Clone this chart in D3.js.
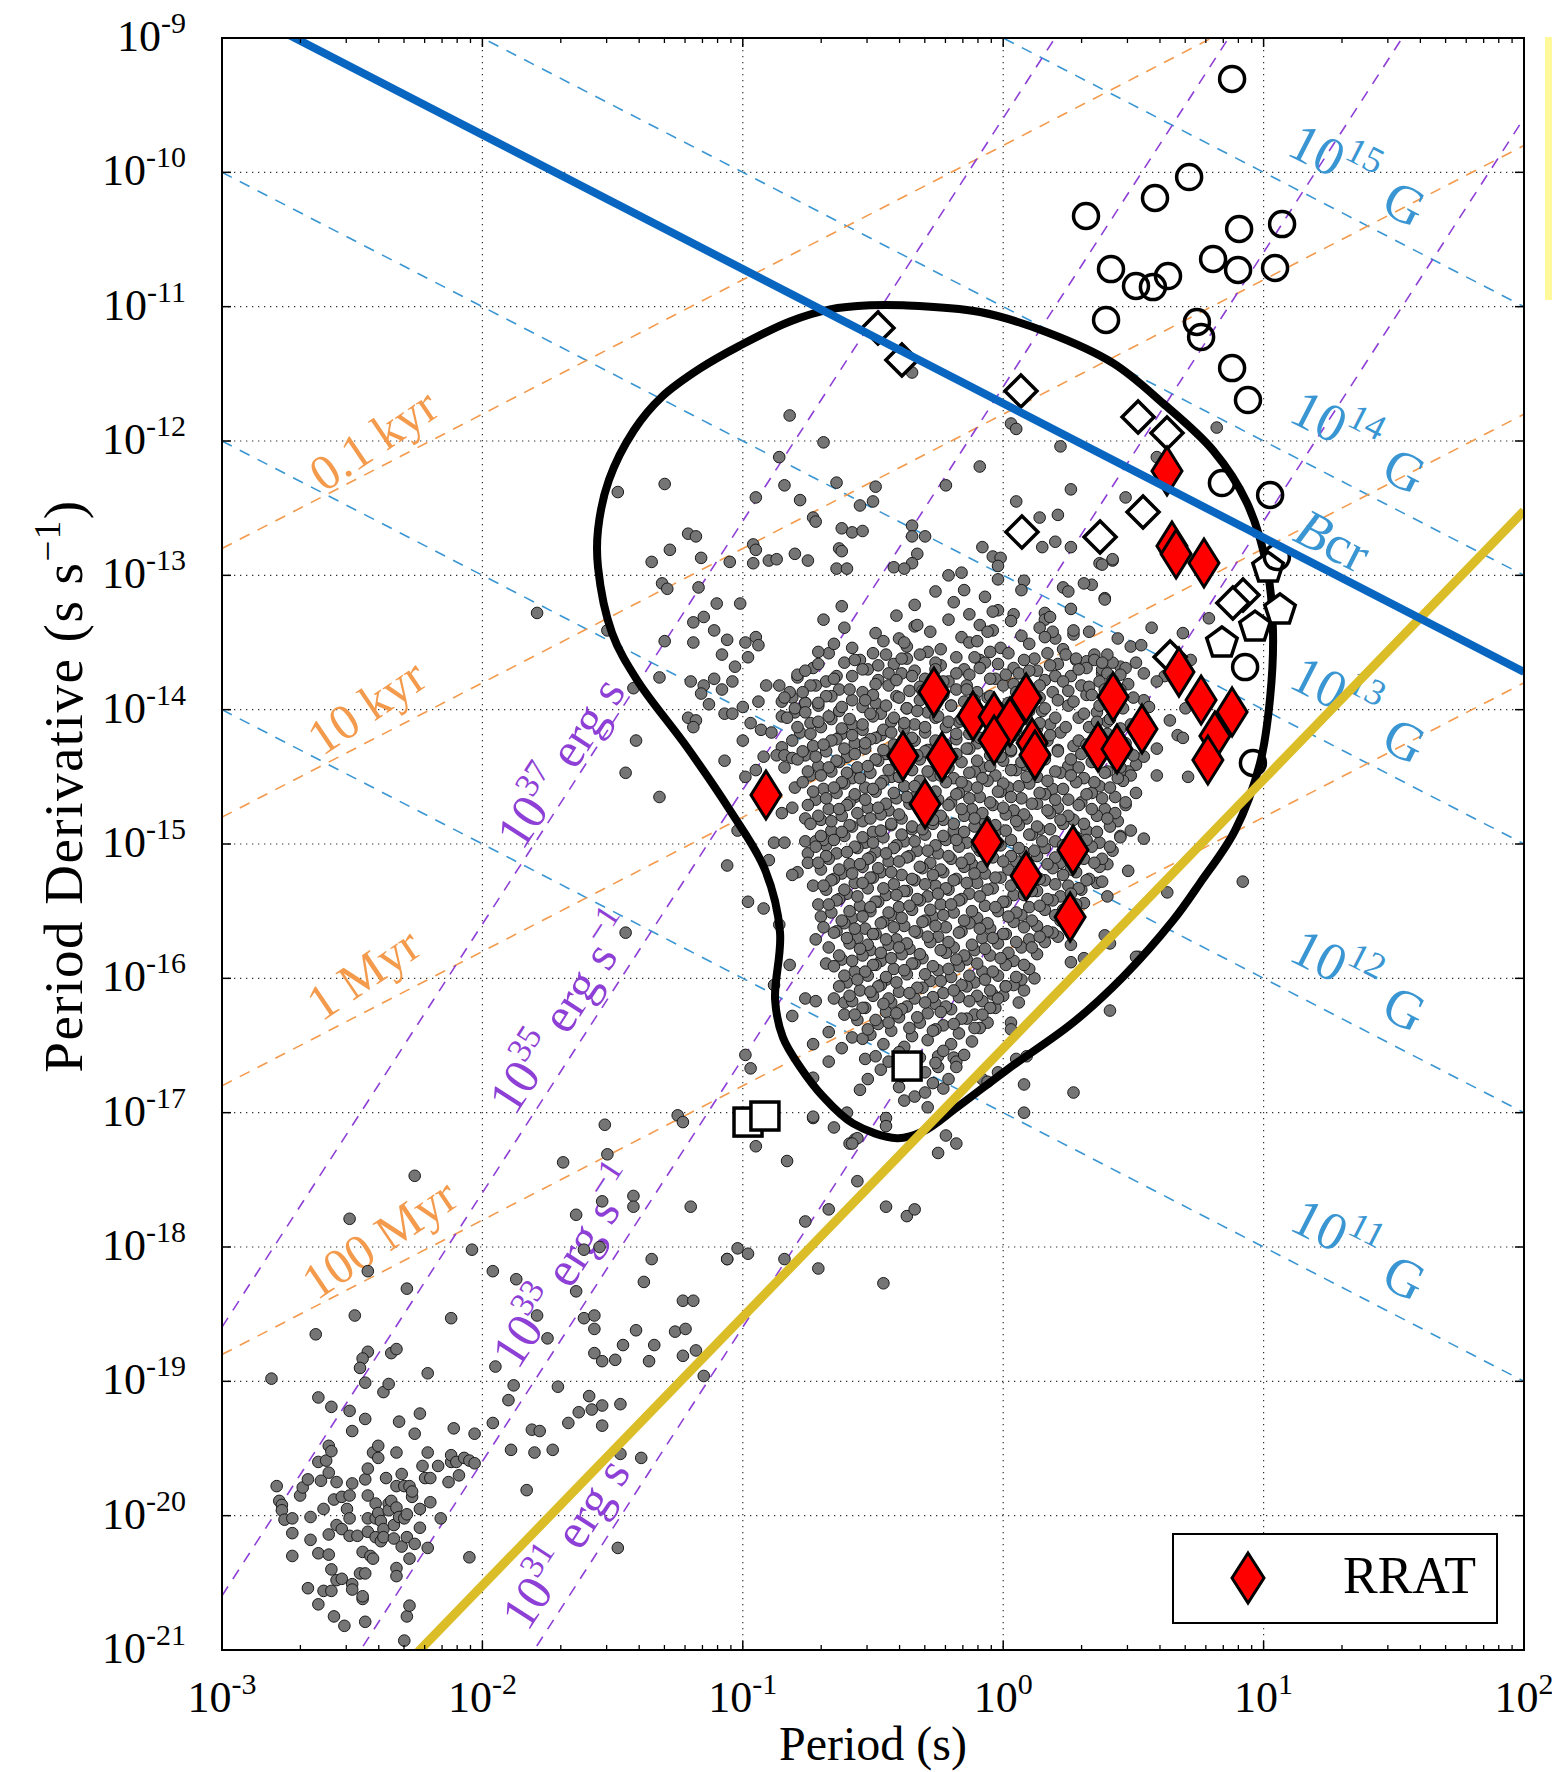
<!DOCTYPE html>
<html>
<head>
<meta charset="utf-8">
<script src="https://cdn.jsdelivr.net/npm/d3@7"></script>
<style>
  body { margin: 0; background: #fff; }
  svg { display: block; }
  text { font-family: "Liberation Serif", "Times New Roman", serif; }
</style>
</head>
<body>
<svg id="chart" width="1552" height="1772"></svg>
<script>
// ---------- data ----------
const xTickExp = [-3, -2, -1, 0, 1, 2];
const yTickExp = [-9, -10, -11, -12, -13, -14, -15, -16, -17, -18, -19, -20, -21];

// constant magnetic field lines: log10(P * Pdot)
const bFieldExp = [15, 14, 13, 12, 11];
const bFieldLogPPdot = [-9, -11, -13, -15, -17];
const bCritLogPPdot = -11.72;
// characteristic age lines (years)
const ageLabels = ["0.1 kyr", "10 kyr", "1 Myr", "100 Myr"];
const ageYears = [1e2, 1e4, 1e6, 1e8];
// spin-down luminosity lines (erg/s)
const edotExp = [37, 35, 33, 31];
const edotHasUnit = [false, true, true, false];
const momentOfInertia = 1e45;
// yellow line: log Pdot = 2 log P + c
const deathSlope = 2;
const deathLogPdotAtP1 = -16.52;

// label anchor points [log P, log Pdot]
const bLabelPos = [[1.27, -9.89], [1.278, -11.874], [1.278, -13.854], [1.278, -15.886], [1.278, -17.889]];
const gLabelPos = [[1.543, -10.228], [1.543, -12.216], [1.543, -14.226], [1.543, -16.221], [1.543, -18.224]];
const bcrLabelPos = [1.267, -12.737];
const ageLabelPos = [[-2.42, -11.985], [-2.447, -13.973], [-2.459, -15.961], [-2.397, -17.933]];
const edotLabelPos = [[-1.702, -14.39], [-1.694, -16.251], [-1.683, -18.142], [-1.683, -20.204]];

// contour [log P, log Pdot]
const contour = [[-0.512,-10.99],[-0.385,-10.99],[-0.089,-11.04],[0.168,-11.19],[0.422,-11.42],[0.614,-11.72],
  [0.806,-12.07],[0.936,-12.46],[1.013,-12.94],[1.036,-13.41],[1.025,-13.91],[0.986,-14.40],[0.890,-14.90],
  [0.756,-15.29],[0.652,-15.57],[0.460,-15.99],[0.268,-16.33],[0.015,-16.68],[-0.177,-16.96],[-0.308,-17.14],
  [-0.408,-17.19],[-0.577,-17.08],[-0.692,-16.88],[-0.780,-16.66],[-0.846,-16.44],[-0.876,-16.16],[-0.857,-15.66],
  [-0.915,-15.19],[-1.049,-14.75],[-1.214,-14.28],[-1.406,-13.78],[-1.502,-13.43],[-1.556,-12.94],[-1.556,-12.66],
  [-1.514,-12.29],[-1.418,-11.92],[-1.310,-11.67],[-1.164,-11.46],[-1.011,-11.29],[-0.819,-11.11],[-0.665,-11.02]];

// open circles [log P, log Pdot]
const circles = [[0.879,-9.305],[0.318,-10.325],[0.583,-10.191],[0.714,-10.035],[0.906,-10.422],[1.071,-10.385],
  [0.414,-10.72],[0.51,-10.846],[0.575,-10.854],[0.633,-10.772],[0.806,-10.645],[0.902,-10.727],[1.044,-10.712],
  [0.395,-11.099],[0.744,-11.114],[0.76,-11.226],[0.879,-11.457],[0.94,-11.695],[0.84,-12.313],[1.025,-12.402],
  [1.051,-12.864],[0.929,-13.683],[0.959,-14.397]];
// open diamonds
const openDiamonds = [[-0.481,-11.159],[-0.389,-11.397],[0.068,-11.628],[0.518,-11.821],[0.629,-11.941],
  [0.537,-12.529],[0.072,-12.678],[0.372,-12.715],[0.921,-13.147],[0.882,-13.206],[0.641,-13.608]];
// open pentagons
const pentagons = [[1.017,-12.946],[1.063,-13.258],[0.967,-13.385],[0.84,-13.504]];
// open squares
const squares = [[-0.369,-16.653],[-0.98,-17.07],[-0.915,-17.025]];
// RRATs
const rrats = [[0.629,-12.223],[0.648,-12.782],[0.664,-12.841],[0.771,-12.908],[-0.266,-13.869],[-0.116,-14.047],
  [-0.035,-14.055],[0.026,-14.092],[0.088,-13.913],[-0.035,-14.226],[0.111,-14.248],[0.122,-14.338],[-0.385,-14.345],
  [-0.235,-14.352],[-0.3,-14.702],[-0.911,-14.635],[-0.062,-14.985],[0.268,-15.045],[0.088,-15.238],[0.257,-15.544],
  [0.422,-13.906],[0.364,-14.278],[0.437,-14.293],[0.533,-14.144],[0.675,-13.72],[0.76,-13.928],[0.879,-14.017],
  [0.813,-14.196],[0.786,-14.375]];

// pulsars (grey): "p,q" with log P = p/100 - 3, log Pdot = -q/100
const pulsarsSparse = `74,1747 49,1779 56,1818 96,1802 71,1831 51,1851 36,1865 88,1853 19,1898 79,1894 55,1901 62,1908
64,1902 37,1912 42,1919 49,1922 55,1928 50,1937 68,1930 76,1924 74,1939 89,1935 97,1939 104,1931 104,1818 113,1824
131,1737 147,1709 148,1731 175,1702 177,1707 158,1762 158,1770 146,1766 136,1776 180,1770 139,1802 145,1800 165,1809
162,1826 136,1833 177,1840 181,1840 139,1853 143,1851 143,1861 159,1862 174,1863 178,1861 166,1873 154,1873 143,1879
146,1885 151,1884 164,1885 177,1881 182,1877 185,1896 194,1809 121,1851 125,1868 105,1889 112,1903 110,1914 129,1904
141,1911 146,1918 142,1921 137,1923 133,1931 153,1917 146,1933 119,1936 122,1937 111,1951 120,1953 127,1951 117,1981
153,1954 161,1957 152,2024 95,2031 56,1878 54,1883 53,1890 65,1879 67,1876
21,1978 22,1989 23,1992 23,1996 24,2003 27,2002 27,2013 27,2030 30,1985 31,1979 33,1973 34,2001 34,2018 37,1960
38,1974 37,2028 39,1995 40,1959 41,1968 41,2014 41,2029 41,1948 42,1952 43,1988 44,1975 44,2007 42,2040 44,2048
46,2047 46,1986 46,2010 48,1995 49,2002 49,2015 49,1985 50,1976 50,2051 50,2055 52,2015 53,2043 54,2062 54,2027
55,2043 55,1973 56,2002 56,1985 56,2012 56,1965 57,2030 58,1953 58,2032 59,1991 59,2002 59,2016 60,1957 60,1998
60,1948 61,2004 61,2019 62,2010 62,2016 63,1972 64,1991 64,1996 65,1989 66,2007 66,2017 67,1978 67,1953 67,1994
68,2001 69,1969 69,2023 70,2002 70,1978 71,1999 71,2016 72,2032 72,1978 73,1986 73,1982 74,2021 76,2009 76,1995
77,1963 78,1972 79,2024 79,1953 80,1972 80,1990 83,1963 84,2002 87,1975 88,1960 88,1955 90,1960 91,1970 93,1957
95,1959 97,1961 37,2066 33,2054 39,2056 42,2056 43,2075 47,2082 55,2079 54,2060 67,2039 67,2045 70,2093 71,2075 72,2067
201,1657 203,1667 205,1725 217,1736 244,1751 233,1772 255,1770 224,1781 263,1777 266,1772 229,1816 216,1809 254,1827
198,1801 194,1809 202,1805 227,1704 235,1711 243,1720 241,1723
308,1679 327,1685 308,1700 278,1717 282,1723 275,1730 341,1624 363,1536 348,1520 352,1584 339,1568 336,1529 340,1539
392,1528 354,1496 338,1528
382,1190 347,1242 342,1289 337,1291 339,1317 379,1332 357,1339 369,1343 349,1353 353,1352 372,1363 351,1365 354,1373
362,1375 345,1368 338,1373 359,1379 354,1393 356,1398 370,1399 364,1408 367,1419 369,1421 359,1429 354,1435 351,1441
371,1450 359,1449 348,1446 345,1447
218,1181 231,1201 214,1212 216,1233 222,1244 227,1257 228,1260 236,1231 245,1248 250,1245 251,1234 238,1265 242,1268
246,1267 265,1263 265,1271 270,1271 265,1149 278,1233 291,1219 303,1187 305,1191 322,1204 326,1236 305,1245 314,1257
321,1255 359,1212 292,1279 315,1279 320,1275 326,1279 237,1280
121,1328 152,1238 148,1341 158,1384 159,1423 155,1447 155,1566 170,1232 202,1543 205,1242
179,1269 182,1271 172,1281 165,1290 184,1287 195,1290 204,1277 205,1281 204,1291 210,1289 213,1288 220,1284 225,1289
238,1282 236,1295 240,1295 267,1284 265,1291 258,1294 262,1295 296,1286 299,1287 298,1293 298,1303 342,1288 338,1292
334,1307 331,1306 339,1318 323,1309 325,1312 308,1304 307,1311 284,1298 279,1300 293,1316 285,1311 274,1312 281,1320
298,1326 304,1329 316,1328 316,1333 320,1347 327,1344 333,1342 335,1359 328,1363 332,1364 338,1370 347,1369 169,1306
171,1310 183,1309 190,1321 199,1321 181,1335 185,1331 170,1349 181,1350 189,1341 194,1348 192,1359 197,1368 201,1350
205,1346 206,1352 202,1361 189,1377 196,1379 192,1385 180,1379 185,1382 168,1376 184,1388 187,1396 193,1403 196,1403
179,1406 182,1408 181,1413 200,1398 203,1410 206,1394 209,1382 214,1382 215,1394 221,1376 224,1395 219,1391 207,1415
211,1417 200,1423 215,1405 215,1428 168,1465 193,1438 201,1450 205,1445 208,1435 213,1434 216,1434 219,1436 216,1443
220,1458 219,1473 224,1481 215,1477 212,1499 216,1499 198,1490 194,1516 210,1512 224,1498 228,1498 225,1507 232,1501
221,1521 219,1523
227,1674 227,1703 240,1700 233,1662 238,1652 247,1660 248,1675 253,1668 260,1681 262,1691 266,1688 270,1685 271,1696
255,1704 255,1710 244,1719 242,1723 245,1683 273,1678 277,1682 275,1658 275,1666 281,1659 282,1662 292,1675 294,1677
298,1670 303,1633 303,1638 305,1660 309,1658 306,1618 312,1600 308,1609 301,1606 296,1612 341,1574 351,1584 331,1544
321,1569 326,1575 326,1588 331,1585 219,1628 227,1649 233,1640 242,1644 224,1615 228,1617 235,1615 239,1618 232,1589
228,1571 230,1554 214,1560 208,1548 218,1590 212,1605`;

// dense core, one row per q: "q: p[+dq] ..."
const pulsarsCore = [
  "1336: 266+2 279-3 291+1 303-2 314+3",
  "1344: 251-1 260+3 272-2 284+2 296-3 307+1 319-2",
  "1352: 242+2 254-3 263+1 276+3 287-2 299+2 310-1 323+3",
  "1360: 233-2 245+3 255-1 263+2 271-3 282+1 291+3 302-2 312+2 324-1 335+3",
  "1368: 227+1 239-3 248+2 258-2 266+3 276-1 285+2 293-3 304+1 313+3 321-2 332+1 342-3",
  "1376: 221-2 232+3 242-1 252+2 261-3 270+1 279+3 287-2 297+1 306-3 316+2 326-1 337+3 345-2",
  "1384: 218+3 228-2 237+1 246+3 256-2 264+2 273-3 282+1 290+3 300-2 309+1 319+3 330-2 339+1 348-3",
  "1392: 216-1 224+3 234-2 242+1 251+3 259-2 268+1 276-3 285+2 294-1 302+3 311-2 321+1 332-3 342+2 350-1",
  "1400: 220+2 229-3 237+1 246-2 253+3 263-1 271+2 280-3 288+1 297+3 306-2 315+1 325-3 336+2 346-1",
  "1408: 217-2 226+2 234-1 242+3 250-3 257+1 266+3 274-2 283+1 291-3 300+2 309-1 318+3 329-2 340+1 349+3",
  "1416: 222+1 230-3 238+2 246-1 253+3 262-2 270+1 278-3 287+2 296-1 304+3 313-2 322+1 333-3 344+2 351-1",
  "1424: 219-1 227+3 236-2 243+1 251-3 258+2 266-1 274+3 282-2 290+1 299-3 308+2 317-1 327+3 337-2 347+1",
  "1432: 224+2 232-1 240+3 247-3 255+1 263+3 271-2 279+1 287-3 295+2 303-1 312+3 321-2 330+1 341-3 350+2",
  "1440: 221-3 229+2 237-1 244+3 252-2 260+1 268-3 276+2 284-1 292+3 300-2 308+1 316-3 325+2 334-1 345+3",
  "1448: 226+1 234-2 242+3 249-1 257+2 265-3 273+1 281+3 289-2 297+1 305-3 313+2 322-1 331+3 340-2 349+1",
  "1456: 223-2 231+3 239-1 247+2 254-3 262+1 270+3 278-2 286+1 294-3 302+2 310-1 319+3 328-2 337+1 346-3",
  "1464: 228+3 236-2 243+1 251-3 259+2 267-1 275+3 283-2 291+1 299-3 307+2 316-1 325+3 334-2 343+1 351-2",
  "1472: 225-1 233+2 241-3 248+1 256+3 264-2 272+1 280-3 288+2 296-1 304+3 313-2 321+1 330-3 339+2 347-1",
  "1480: 230+2 238-1 246+3 253-2 261+1 269-3 277+2 285-1 293+3 301-2 309+1 318-3 327+2 336-1 344+3",
  "1488: 226-3 234+2 242-1 250+3 257-2 265+1 273-3 281+2 289-1 297+3 306-2 314+1 323-3 332+2 341-1 349+2",
  "1496: 231+1 239-2 247+3 254-1 262+2 270-3 278+1 286+3 295-2 303+1 311-3 320+2 328-1 337+3 345-2",
  "1504: 228-2 236+3 244-1 251+2 259-3 267+1 275+3 283-2 291+1 299-3 308+2 316-1 325+3 334-2 342+1",
  "1512: 225+2 233-1 241+3 249-2 256+1 264-3 272+2 280-1 288+3 296-2 305+1 313-3 322+2 331-1 340+3",
  "1520: 230-1 238+2 246-3 253+1 261+3 269-2 277+1 285-3 293+2 302-1 310+3 319-2 328+1 337-3",
  "1528: 227+3 235-2 243+1 250-3 258+2 266-1 274+3 282-2 290+1 299-3 307+2 316-1 325+3 333-2",
  "1536: 232-2 240+1 248-3 255+2 263-1 271+3 279-2 287+1 296-3 304+2 313-1 322+3 330-2",
  "1544: 229+1 237-3 245+2 252-1 260+3 268-2 276+1 284-3 293+2 301-1 310+3 319-2 328+1",
  "1552: 234-1 242+3 249-2 257+1 265-3 273+2 281-1 290+3 298-2 307+1 316-3 325+2",
  "1560: 231+2 239-1 247+3 254-2 262+1 270-3 278+2 287-1 295+3 304-2 313+1 322-3",
  "1568: 236-3 244+2 251-1 259+3 267-2 275+1 284-3 292+2 301-1 310+3 319-2",
  "1576: 233+1 241-2 249+3 256-1 264+2 272-3 281+1 289+3 298-2 307+1 316-3",
  "1584: 238+2 246-1 253+3 261-2 269+1 278-3 286+2 295-1 304+3 313-2",
  "1592: 235-1 243+3 251-2 258+1 266-3 275+2 283-1 292+3 301-2 310+1",
  "1600: 240+3 248-2 255+1 263-3 272+2 280-1 289+3 298-2 307+1",
  "1608: 237-2 245+1 253-3 260+2 269-1 277+3 286-2 295+1 304-3",
  "1616: 242+1 250-3 257+2 266-1 274+3 283-2 292+1 300-3",
  "1624: 239+3 247-2 255+1 263-3 271+2 280-1 289+3 297-2",
  "1632: 244-1 252+2 260-3 268+1 277+3 286-2 294+1",
  "1640: 249+2 257-1 265+3 274-2 283+1 291-3",
  "1648: 246-3 254+1 262+3 271-2 280+1 288-1",
  "1656: 251+2 260-1 268+3 277-2 285+1",
  "1664: 256-2 265+3 274-1 282+2",
  "1672: 261+1 270-2 279+3",
  // second, offset layer
  "1324: 238-1 266-2 296+3 326+1",
  "1332: 231+1 259-2 287-3 318-1",
  "1340: 239-1 267-3 294+2 327+1",
  "1348: 235+3 262+2 290+1 316-2 344-1",
  "1356: 229+1 250+2 268+3 295+1 317+2 340+3",
  "1364: 229+2 243-1 252+3 261-2 274+1 289-3 298+2 308-1 318+3 328-2 338+1",
  "1372: 224-1 236+3 246-2 256+1 265+3 274-2 282+1 291-3 301+2 310-1 320+3 329-2 340+1",
  "1380: 226+2 235-3 251+1 259-2 268+3 277-1 286+2 295-3 304+1 314+2 323-1 333+3 342-2",
  "1388: 223-1 232+2 241-3 250+1 260+3 269-2 277+1 286-3 295+2 305-1 314+3 325-2 334+1 345-3",
  "1396: 220+3 229-1 238+2 247-3 255+1 263+3 272-2 280+1 289-3 298+2 307-1 316+3 327-2 337+1",
  "1404: 224-2 233+1 241+3 249-1 258+2 267-3 275+1 284+3 292-2 301+1 310-3 320+2 331-1 341+3",
  "1412: 221+1 229-3 238+2 246-1 254+3 262-2 270+1 279-3 296-1 305+3 314-2 324+1 336-3 345+2",
  "1420: 226-2 234+3 242-1 249+2 257-3 265+1 274+3 282-2 291+1 300-3 309+2 318-1 329+3 340-2",
  "1428: 223+3 231-2 239+1 247-3 254+2 262-1 270+3 278-2 286+1 294-3 303+2 312-1 321+3 332-2 343+1",
  "1436: 228-1 236+2 243-3 251+1 259+3 267-2 275+1 282-3 290+2 299-1 307+3 316-2 326+1 337-3",
  "1444: 225+2 233-1 240+3 248-2 256+1 263-3 271+2 279-1 287+3 295-2 303+1 312-3 320+2 329-1 339+3",
  "1452: 230-3 238+2 245-1 253+3 260-2 268+1 276-3 284+2 292-1 300+3 309-2 317+1 326-3 335+2 344-1",
  "1460: 227+1 235-2 243+3 250-1 258+2 266-3 274+1 282+3 290-2 298+1 306-3 314+2 323-1 332+3 341-2",
  "1468: 232-2 240+3 247-1 255+2 263-3 271+1 279+3 287-2 295+1 303-3 311+2 320-1 329+3 338-2 347+1",
  "1476: 229+3 237-2 244+1 252-3 260+2 268-1 276+3 284-2 292+1 300-3 308+2 317-1 325+3 334-2 343+1",
  "1484: 234-1 241+2 249-3 257+1 265+3 273-2 281+1 289-3 297+2 305-1 313+3 322-2 331+1 340-3",
  "1492: 230+2 238-1 246+3 253-2 261+1 269-3 277+2 285-1 293+3 301-2 310+1 318-3 327+2 336-1 345+3",
  "1500: 235-3 243+2 250-1 258+3 266-2 274+1 282-3 290+2 298-1 306+3 315-2 323+1 332-3 341+2",
  "1508: 232+1 240-2 248+3 255-1 263+2 271-3 279+1 287+3 295-2 303+1 312-3 320+2 329-1 338+3",
  "1516: 229-2 237+3 245-1 252+2 260-3 268+1 276+3 284-2 292+1 300-3 309+2 317-1 326+3 335-2",
  "1524: 234+3 242-2 249+1 257-3 265+2 273-1 281+3 289-2 297+1 306-3 314+2 323-1 332+3",
  "1532: 231-1 239+2 246-3 254+1 262+3 270-2 278+1 286-3 294+2 303-1 311+3 320-2 329+1",
  "1540: 236+2 244-1 251+3 259-2 267+1 275-3 283+2 291-1 300+3 308-2 317+1 326-3",
  "1548: 233-3 241+2 249-1 256+3 264-2 272+1 280-3 288+2 297-1 305+3 314-2 323+1",
  "1556: 238+1 246-2 253+3 261-1 269+2 277-3 285+1 294+3 302-2 311+1 320-3",
  "1564: 235+2 243-1 250+3 258-2 266+1 274-3 283+2 291-1 300+3 308-2 317+1",
  "1572: 240-2 248+3 255-1 263+2 271-3 279+1 288+3 296-2 305+1 314-3",
  "1580: 237+3 245-2 253+1 260-3 268+2 276-1 285+3 293-2 302+1 311-3",
  "1588: 242-1 250+2 257-3 265+1 273+3 282-2 290+1 299-3 308+2",
  "1596: 239+2 247-1 255+3 262-2 270+1 279-3 287+2 296-1 305+3",
  "1604: 244-3 252+2 259-1 267+3 276-2 284+1 293-3 301+2",
  "1612: 241+1 249-2 256+3 264-1 273+2 281-3 290+1 298+3",
  "1620: 246+2 254-1 261+3 270-2 278+1 287-3 295+2",
  "1628: 243-1 251+3 259-2 267+1 276-3 284+2 292-1",
  "1636: 248+2 256-3 264+1 273+3 281-2 289+1"
];

// ---------- setup ----------
const L = 222, R = 1524, T = 38, B = 1650;
const x = d3.scaleLog().domain([1e-3, 1e2]).range([L, R]);
const y = d3.scaleLog().domain([1e-21, 1e-9]).range([B, T]);
const svg = d3.select("#chart");

const toPt = d => [10 ** d[0], 10 ** d[1]];
const pulsars = [];
pulsarsSparse.trim().split(/\s+/).forEach(s => {
  const [p, q] = s.split(",").map(Number);
  pulsars.push([p / 100 - 3, -q / 100]);
});
pulsarsCore.forEach(row => {
  const [qs, rest] = row.split(":");
  const q = +qs;
  rest.trim().split(/\s+/).forEach(tok => {
    const m = tok.match(/^(\d+)([+-]\d+)?$/);
    const dq = m[2] ? +m[2] : 0;
    pulsars.push([+m[1] / 100 - 3, -(q + dq) / 100]);
  });
});

svg.append("rect").attr("x", 1545).attr("y", 37).attr("width", 7).attr("height", 263).attr("fill", "#fff99c");

svg.append("defs").append("clipPath").attr("id", "plotClip")
  .append("rect").attr("x", L).attr("y", T).attr("width", R - L).attr("height", B - T);
const plot = svg.append("g").attr("clip-path", "url(#plotClip)");

// grid
const grid = plot.append("g").attr("stroke", "#333").attr("stroke-width", 1.2).attr("stroke-dasharray", "1.3,4.7");
yTickExp.forEach(e => grid.append("line").attr("x1", L).attr("x2", R).attr("y1", y(10 ** e)).attr("y2", y(10 ** e)));
xTickExp.forEach(e => grid.append("line").attr("y1", T).attr("y2", B).attr("x1", x(10 ** e)).attr("x2", x(10 ** e)));

// guide lines
const lineGen = d3.line().x(d => x(d[0])).y(d => y(d[1]));
const Pends = [1e-3, 1e2];
const dashed = (pts, color) => plot.append("path").attr("d", lineGen(pts)).attr("fill", "none")
  .attr("stroke", color).attr("stroke-width", 1.6).attr("stroke-dasharray", "11,9");

const BLUE = "#3a96d2", ORANGE = "#f39a4c", PURPLE = "#8e3fd6";
bFieldLogPPdot.forEach(k => dashed(Pends.map(P => [P, 10 ** k / P]), BLUE));
ageYears.forEach(t => dashed(Pends.map(P => [P, P / (2 * t * 3.156e7)]), ORANGE));
edotExp.forEach(e => dashed(Pends.map(P => [P, 10 ** e * P ** 3 / (4 * Math.PI ** 2 * momentOfInertia)]), PURPLE));

// labels
function richText(g, segs, fs) {
  const t = g.append("text").attr("text-anchor", "middle").attr("y", fs * 0.35).attr("font-size", fs);
  let prevSup = false;
  segs.forEach(s => {
    const ts = t.append("tspan").text(s.t);
    if (s.sup) { ts.attr("font-size", fs * 0.68).attr("dy", prevSup ? 0 : -fs * 0.42); }
    else if (prevSup) { ts.attr("dy", fs * 0.42); }
    if (s.italic) ts.attr("font-style", "italic");
    prevSup = !!s.sup;
  });
  return t;
}
function label(pos, angle, segs, fs, color) {
  const g = plot.append("g")
    .attr("transform", `translate(${x(10 ** pos[0])},${y(10 ** pos[1])}) rotate(${angle})`)
    .attr("fill", color);
  richText(g, segs, fs);
}
bFieldExp.forEach((e, i) => {
  label(bLabelPos[i], 27, [{ t: "10" }, { t: String(e), sup: true }], 54, BLUE);
  label(gLabelPos[i], 27, [{ t: "G" }], 54, BLUE);
});
label(bcrLabelPos, 27, [{ t: "B", italic: true }, { t: "cr" }], 54, BLUE);
ageLabels.forEach((s, i) => label(ageLabelPos[i], -34, [{ t: s }], 50, ORANGE));
edotExp.forEach((e, i) => {
  const segs = [{ t: "10" }, { t: String(e), sup: true }, { t: "  erg s" }];
  if (edotHasUnit[i]) segs.push({ t: "\u22121", sup: true });
  label(edotLabelPos[i], -57, segs, 50, PURPLE);
});

// pulsars
plot.append("g").selectAll("circle").data(pulsars).join("circle")
  .attr("cx", d => x(10 ** d[0])).attr("cy", d => y(10 ** d[1])).attr("r", 5.8)
  .attr("fill", "#757575").attr("stroke", "#1a1a1a").attr("stroke-width", 1);

// contour
plot.append("path").datum(contour.map(toPt))
  .attr("d", d3.line().x(d => x(d[0])).y(d => y(d[1])).curve(d3.curveCatmullRomClosed.alpha(0.5)))
  .attr("fill", "none").attr("stroke", "#000").attr("stroke-width", 8);

// open symbols
const mk = plot.append("g").attr("stroke", "#000").attr("stroke-width", 3.5);
mk.selectAll(".sq").data(squares).join("rect").attr("class", "sq")
  .attr("x", d => x(10 ** d[0]) - 14).attr("y", d => y(10 ** d[1]) - 14)
  .attr("width", 28).attr("height", 28).attr("fill", "#fff");
mk.selectAll(".od").data(openDiamonds).join("path").attr("class", "od")
  .attr("transform", d => `translate(${x(10 ** d[0])},${y(10 ** d[1])})`)
  .attr("d", "M0,-16L16,0L0,16L-16,0Z").attr("fill", "#fff");
const pent = d3.range(5).map(k => {
  const a = -Math.PI / 2 + k * 2 * Math.PI / 5;
  return [16 * Math.cos(a), 16 * Math.sin(a)];
});
mk.selectAll(".pt").data(pentagons).join("path").attr("class", "pt")
  .attr("transform", d => `translate(${x(10 ** d[0])},${y(10 ** d[1])})`)
  .attr("d", "M" + pent.map(p => p.join(",")).join("L") + "Z").attr("fill", "#fff");
mk.selectAll(".oc").data(circles).join("circle").attr("class", "oc")
  .attr("cx", d => x(10 ** d[0])).attr("cy", d => y(10 ** d[1])).attr("r", 12.5).attr("fill", "none");

// RRATs
const diamondPath = "M0,-24L15,0L0,24L-15,0Z";
plot.append("g").selectAll("path").data(rrats).join("path")
  .attr("transform", d => `translate(${x(10 ** d[0])},${y(10 ** d[1])})`)
  .attr("d", diamondPath).attr("fill", "#ff0000").attr("stroke", "#000").attr("stroke-width", 3);

// thick lines
plot.append("path").attr("d", lineGen(Pends.map(P => [P, 10 ** deathLogPdotAtP1 * P ** deathSlope])))
  .attr("stroke", "#dbbd27").attr("stroke-width", 9).attr("fill", "none");
plot.append("path").attr("d", lineGen(Pends.map(P => [P, 10 ** bCritLogPPdot / P])))
  .attr("stroke", "#0866c1").attr("stroke-width", 8).attr("fill", "none");

// frame and ticks
const ax = svg.append("g").attr("stroke", "#000");
ax.append("rect").attr("x", L).attr("y", T).attr("width", R - L).attr("height", B - T)
  .attr("fill", "none").attr("stroke-width", 2);
xTickExp.forEach(e => {
  const xv = x(10 ** e);
  ax.append("line").attr("x1", xv).attr("x2", xv).attr("y1", B).attr("y2", B - 9).attr("stroke-width", 1.5);
  ax.append("line").attr("x1", xv).attr("x2", xv).attr("y1", T).attr("y2", T + 9).attr("stroke-width", 1.5);
  if (e < 2) d3.range(2, 10).forEach(m => {
    const xm = x(m * 10 ** e);
    ax.append("line").attr("x1", xm).attr("x2", xm).attr("y1", B).attr("y2", B - 5).attr("stroke-width", 1.3);
    ax.append("line").attr("x1", xm).attr("x2", xm).attr("y1", T).attr("y2", T + 5).attr("stroke-width", 1.3);
  });
});
yTickExp.forEach(e => {
  const yv = y(10 ** e);
  ax.append("line").attr("x1", L).attr("x2", L + 9).attr("y1", yv).attr("y2", yv).attr("stroke-width", 1.5);
  ax.append("line").attr("x1", R).attr("x2", R - 9).attr("y1", yv).attr("y2", yv).attr("stroke-width", 1.5);
});

// tick labels
const TICK_FS = 44;
yTickExp.forEach(e => {
  const t = svg.append("text").attr("x", 186).attr("y", y(10 ** e) + 13).attr("text-anchor", "end")
    .attr("font-size", TICK_FS).attr("fill", "#000");
  t.append("tspan").text("10");
  t.append("tspan").text(String(e)).attr("font-size", 30).attr("dy", -18);
});
xTickExp.forEach(e => {
  const t = svg.append("text").attr("x", x(10 ** e)).attr("y", 1712).attr("text-anchor", "middle")
    .attr("font-size", TICK_FS).attr("fill", "#000");
  t.append("tspan").text("10");
  t.append("tspan").text(String(e)).attr("font-size", 30).attr("dy", -18);
});

// axis titles
svg.append("text").attr("x", (L + R) / 2).attr("y", 1760).attr("text-anchor", "middle")
  .attr("font-size", 48).text("Period (s)");
const yt = svg.append("text").attr("transform", "translate(82,786) rotate(-90)").attr("text-anchor", "middle")
  .attr("font-size", 55).attr("letter-spacing", 1.5);
yt.append("tspan").text("Period Derivative (s s");
yt.append("tspan").text("\u22121").attr("font-size", 37).attr("dy", -22);
yt.append("tspan").text(")").attr("dy", 22);

// legend
const lg = svg.append("g");
lg.append("rect").attr("x", 1173).attr("y", 1534).attr("width", 324).attr("height", 89)
  .attr("fill", "#fff").attr("stroke", "#000").attr("stroke-width", 2);
lg.append("path").attr("transform", "translate(1248,1578)").attr("d", "M0,-25L16,0L0,25L-16,0Z")
  .attr("fill", "#ff0000").attr("stroke", "#000").attr("stroke-width", 3);
lg.append("text").attr("x", 1343).attr("y", 1593).attr("font-size", 52).text("RRAT");
</script>
</body>
</html>
